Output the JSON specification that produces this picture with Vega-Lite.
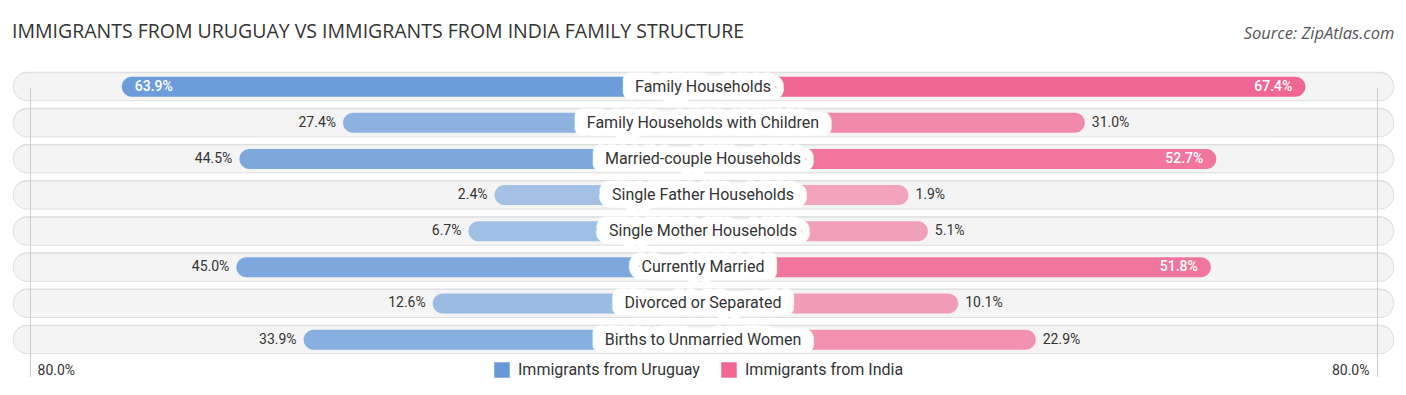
{
  "$schema": "https://vega.github.io/schema/vega-lite/v6.json",
  "width": 1406,
  "height": 315,
  "autosize": "none",
  "padding": {"top": 65, "left": 0, "right": 0, "bottom": 15},
  "background": "white",
  "title": {
    "text": "IMMIGRANTS FROM URUGUAY VS IMMIGRANTS FROM INDIA FAMILY STRUCTURE",
    "anchor": "start", "frame": "group", "dx": 12, "offset": -26,
    "font": "Open Sans", "fontSize": 19.5, "fontWeight": "normal", "color": "#333333", "baseline": "middle"
  },
  "config": {"view": {"stroke": null}, "text": {"font": "Roboto"}},
  "data": {
    "values": [
      {"cat": "Family Households", "group": "Immigrants from Uruguay", "value": 0.639},
      {"cat": "Family Households with Children", "group": "Immigrants from Uruguay", "value": 0.274},
      {"cat": "Married-couple Households", "group": "Immigrants from Uruguay", "value": 0.445},
      {"cat": "Single Father Households", "group": "Immigrants from Uruguay", "value": 0.024},
      {"cat": "Single Mother Households", "group": "Immigrants from Uruguay", "value": 0.067},
      {"cat": "Currently Married", "group": "Immigrants from Uruguay", "value": 0.450},
      {"cat": "Divorced or Separated", "group": "Immigrants from Uruguay", "value": 0.126},
      {"cat": "Births to Unmarried Women", "group": "Immigrants from Uruguay", "value": 0.339},
      {"cat": "Family Households", "group": "Immigrants from India", "value": 0.674},
      {"cat": "Family Households with Children", "group": "Immigrants from India", "value": 0.310},
      {"cat": "Married-couple Households", "group": "Immigrants from India", "value": 0.527},
      {"cat": "Single Father Households", "group": "Immigrants from India", "value": 0.019},
      {"cat": "Single Mother Households", "group": "Immigrants from India", "value": 0.051},
      {"cat": "Currently Married", "group": "Immigrants from India", "value": 0.518},
      {"cat": "Divorced or Separated", "group": "Immigrants from India", "value": 0.101},
      {"cat": "Births to Unmarried Women", "group": "Immigrants from India", "value": 0.229}
    ]
  },
  "encoding": {
    "y": {
      "field": "cat", "type": "nominal", "axis": null,
      "sort": ["Family Households", "Family Households with Children", "Married-couple Households", "Single Father Households", "Single Mother Households", "Currently Married", "Divorced or Separated", "Births to Unmarried Women"],
      "scale": {"range": [3.6, 292.7], "paddingInner": 0, "paddingOuter": 0}
    }
  },
  "layer": [
    {
      "transform": [{"filter": "datum.group === 'Immigrants from Uruguay'"}],
      "encoding": {
        "x": {
          "datum": -0.82, "type": "quantitative",
          "scale": {"domain": [-0.8357, 0.8345]},
          "axis": {
            "orient": "bottom", "values": [-0.8, 0.8], "grid": true, "gridColor": "#cccccc", "gridWidth": 1,
            "domain": false, "ticks": false, "title": null, "zindex": 1,
            "labelExpr": "format(abs(datum.value), '.1%')",
            "labelFont": "Roboto", "labelFontSize": 14, "labelColor": "#333333",
            "labelPadding": -10, "labelBaseline": "middle",
            "labelAlign": {"condition": {"test": "datum.value < 0", "value": "left"}, "value": "right"},
            "labelOffset": {"condition": {"test": "datum.value < 0", "value": 7}, "value": -8},
            "labelFlush": false, "labelOverlap": false
          }
        },
        "x2": {"datum": 0.82}
      },
      "layer": [
        {"mark": {"type": "bar", "height": 28, "cornerRadius": 14, "fill": "#dcdcdc", "yOffset": -1}},
        {"mark": {"type": "bar", "height": 28, "cornerRadius": 14, "fill": "#f4f4f4", "stroke": "#e0e0e0", "strokeWidth": 1}}
      ]
    },
    {
      "transform": [{"filter": "datum.group === 'Immigrants from Uruguay'"}],
      "encoding": {
        "x": {
          "field": "value", "type": "quantitative",
          "scale": {"domain": [-1.48, 0.84], "reverse": true},
          "axis": {
            "orient": "top", "domain": false, "ticks": false, "labels": false, "grid": false,
            "title": "Source: ZipAtlas.com", "titleFont": "Open Sans", "titleFontSize": 16.5,
            "titleFontStyle": "italic", "titleFontWeight": "normal", "titleColor": "#555555",
            "titleX": 1394, "titleY": -32, "titleAlign": "right", "titleBaseline": "middle", "titleAngle": 0
          }
        }
      },
      "layer": [
        {
          "mark": {"type": "bar", "height": 20, "cornerRadius": 10},
          "encoding": {
            "x2": {"datum": -0.32},
            "color": {
              "field": "group", "type": "nominal",
              "scale": {"domain": ["Immigrants from Uruguay", "Immigrants from India"], "range": ["#6699d8", "#f06591"]},
              "legend": {
                "title": null, "orient": "none", "legendX": 494, "legendY": 297, "direction": "horizontal",
                "symbolType": "square", "symbolSize": 240, "symbolStrokeWidth": 0,
                "labelFont": "Roboto", "labelFontSize": 16, "labelColor": "#333333", "labelLimit": 0,
                "columnPadding": 21, "labelOffset": 8
              }
            },
            "opacity": {"field": "value", "type": "quantitative", "scale": {"domain": [0, 0.7], "range": [0.55, 1]}, "legend": null}
          }
        },
        {
          "transform": [{"filter": "datum.value <= 0.5"}],
          "mark": {"type": "text", "align": "right", "dx": -7, "fontSize": 14, "color": "#333333", "baseline": "middle"},
          "encoding": {"text": {"field": "value", "format": ".1%"}}
        },
        {
          "transform": [{"filter": "datum.value > 0.5"}],
          "mark": {"type": "text", "align": "left", "dx": 13, "fontSize": 14, "fontWeight": 500, "color": "white", "baseline": "middle"},
          "encoding": {"text": {"field": "value", "format": ".1%"}}
        }
      ]
    },
    {
      "transform": [{"filter": "datum.group === 'Immigrants from India'"}],
      "encoding": {
        "x": {"field": "value", "type": "quantitative", "scale": {"domain": [-1.48, 0.84]}, "axis": null}
      },
      "layer": [
        {
          "mark": {"type": "bar", "height": 20, "cornerRadius": 10},
          "encoding": {
            "x2": {"datum": -0.32},
            "color": {"field": "group", "type": "nominal"},
            "opacity": {"field": "value", "type": "quantitative", "legend": null}
          }
        },
        {
          "transform": [{"filter": "datum.value <= 0.5"}],
          "mark": {"type": "text", "align": "left", "dx": 7, "fontSize": 14, "color": "#333333", "baseline": "middle"},
          "encoding": {"text": {"field": "value", "format": ".1%"}}
        },
        {
          "transform": [{"filter": "datum.value > 0.5"}],
          "mark": {"type": "text", "align": "right", "dx": -13, "fontSize": 14, "fontWeight": 500, "color": "white", "baseline": "middle"},
          "encoding": {"text": {"field": "value", "format": ".1%"}}
        }
      ]
    },
    {
      "transform": [{"filter": "datum.group === 'Immigrants from Uruguay'"}],
      "encoding": {
        "x": {"datum": 0, "type": "quantitative", "scale": {"domain": [-1, 1]}, "axis": null},
        "text": {"field": "cat"}
      },
      "layer": [
        {"mark": {"type": "text", "fontSize": 16, "baseline": "middle", "fill": "white", "stroke": "white", "strokeWidth": 15, "strokeJoin": "round", "dx": -6}},
        {"mark": {"type": "text", "fontSize": 16, "baseline": "middle", "fill": "white", "stroke": "white", "strokeWidth": 15, "strokeJoin": "round", "dx": 6}},
        {"mark": {"type": "text", "fontSize": 16, "baseline": "middle", "color": "#333333"}}
      ]
    }
  ],
  "resolve": {"scale": {"x": "independent"}, "axis": {"x": "independent"}}
}
